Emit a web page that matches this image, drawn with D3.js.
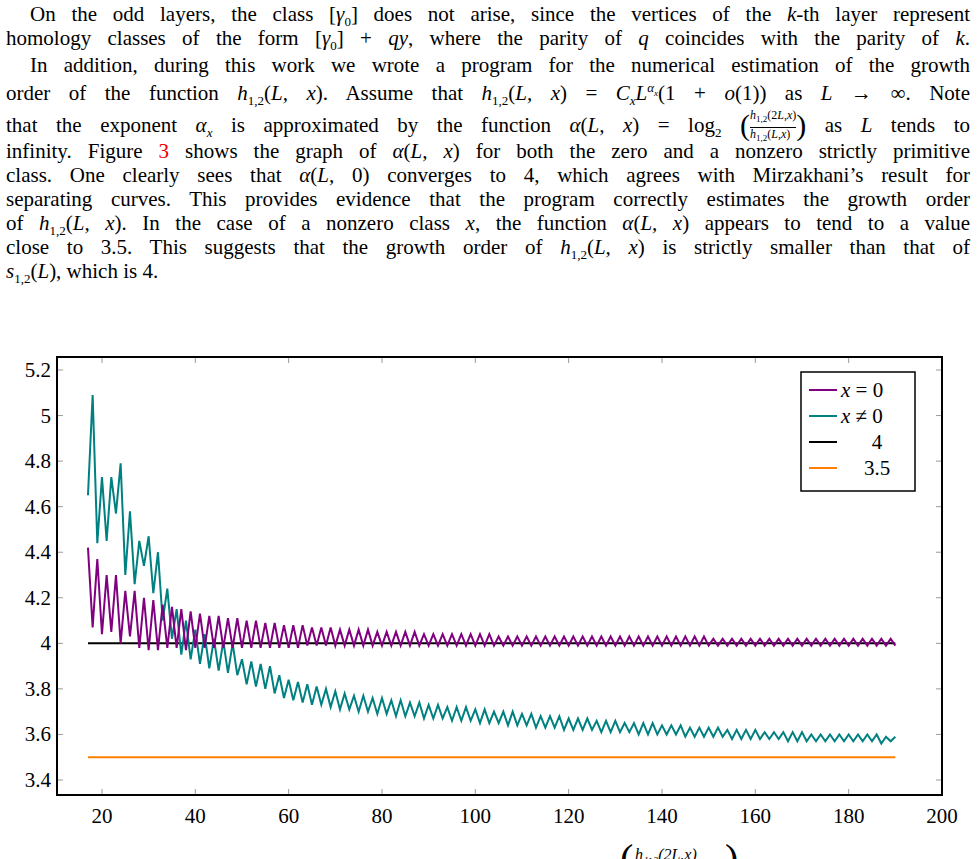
<!DOCTYPE html>
<html>
<head>
<meta charset="utf-8">
<script src="https://cdn.jsdelivr.net/npm/d3@7"></script>
<style>
body { margin: 0; background: #fff; font-family: "Liberation Serif", "DejaVu Serif", serif; }
#text { position: absolute; left: 6px; top: 2px; width: 964px; font-size: 21px; color: #000; }
.ln { position: absolute; left: 0; width: 964px; text-align: justify; text-align-last: justify; white-space: nowrap; }
.ind { padding-left: 24px; width: 940px; }
.last { text-align-last: left; }
i { font-style: italic; }
sub, sup { font-size: 13px; }
.fr { display: inline-block; vertical-align: middle; text-align: center; font-size: 12px; line-height: 13px; }
.fr span { display: block; }
.fr .num { border-bottom: 1px solid #000; }
.fr sub { font-size: 9px; }
.big { font-size: 30px; vertical-align: -3px; }
#chart { position: absolute; left: 0; top: 0; }
</style>
</head>
<body>
<div id="text">
<div class="ln ind" style="top:0">On the odd layers, the class [<i>γ</i><sub>0</sub>] does not arise, since the vertices of the <i>k</i>-th layer represent</div>
<div class="ln" style="top:24px">homology classes of the form [<i>γ</i><sub>0</sub>]&nbsp;+&nbsp;<i>qy</i>, where the parity of <i>q</i> coincides with the parity of <i>k</i>.</div>
<div class="ln ind" style="top:51px">In addition, during this work we wrote a program for the numerical estimation of the growth</div>
<div class="ln" style="top:78px">order of the function <i>h</i><sub>1,2</sub>(<i>L,&nbsp;x</i>). Assume that <i>h</i><sub>1,2</sub>(<i>L,&nbsp;x</i>)&nbsp;=&nbsp;<i>C<sub>x</sub>L<sup>α<sub style="font-size:9px">x</sub></sup></i>(1&nbsp;+&nbsp;<i>o</i>(1)) as <i>L</i>&nbsp;→&nbsp;∞. Note</div>
<div class="ln" style="top:106px">that the exponent <i>α<sub>x</sub></i> is approximated by the function <i>α</i>(<i>L,&nbsp;x</i>)&nbsp;=&nbsp;log<sub>2</sub>&nbsp;<span class="big">(</span><span class="fr"><span class="num"><i>h</i><sub>1,2</sub>(2<i>L,x</i>)</span><span><i>h</i><sub>1,2</sub>(<i>L,x</i>)</span></span><span class="big">)</span> as <i>L</i> tends to</div>
<div class="ln" style="top:137px">infinity. Figure <span style="color:#e00">3</span> shows the graph of <i>α</i>(<i>L,&nbsp;x</i>) for both the zero and a nonzero strictly primitive</div>
<div class="ln" style="top:161px">class. One clearly sees that <i>α</i>(<i>L,</i>&nbsp;0) converges to 4, which agrees with Mirzakhani’s result for</div>
<div class="ln" style="top:185px">separating curves. This provides evidence that the program correctly estimates the growth order</div>
<div class="ln" style="top:209px">of <i>h</i><sub>1,2</sub>(<i>L,&nbsp;x</i>). In the case of a nonzero class <i>x</i>, the function <i>α</i>(<i>L,&nbsp;x</i>) appears to tend to a value</div>
<div class="ln" style="top:233px">close to 3.5. This suggests that the growth order of <i>h</i><sub>1,2</sub>(<i>L,&nbsp;x</i>) is strictly smaller than that of</div>
<div class="ln last" style="top:257px"><i>s</i><sub>1,2</sub>(<i>L</i>), which is 4.</div>
</div>
<svg id="chart" width="978" height="859"></svg>
<script>
const xTicks = [20, 40, 60, 80, 100, 120, 140, 160, 180, 200];
const yTicks = [3.4, 3.6, 3.8, 4, 4.2, 4.4, 4.6, 4.8, 5, 5.2];
const legendLabels = ["x = 0", "x ≠ 0", "4", "3.5"];
const seriesColors = ["#800080", "#008080", "#000000", "#ff8000"];

const zeroClass = [
  4.42,4.07,4.37,4.04,4.30,4.05,4.30,4.00,4.23,4.03,4.23,3.98,4.20,3.97,
  4.19,3.97,4.17,3.98,4.16,3.98,4.15,3.97,4.14,3.98,
  4.13,3.98,4.12,3.98,4.12,3.98,4.11,3.98,4.11,3.98,
  4.10,3.98,4.10,3.98,4.09,3.98,4.09,3.98,4.08,3.98,
  4.08,3.98,4.08,3.99,4.07,3.99,4.07,3.99,4.07,3.99,
  4.06,3.99,4.06,3.99,4.06,3.99,4.06,3.99,4.05,3.99,
  4.05,3.99,4.05,3.99,4.05,3.99,4.05,3.99,4.04,3.99,
  4.04,3.99,4.04,3.99,4.04,3.99,4.04,3.99,4.04,3.99,
  4.04,3.99,4.04,3.99,4.03,3.99,4.03,3.99,4.03,3.99,
  4.03,3.99,4.03,3.99,4.03,3.99,4.03,3.99,4.03,3.99,
  4.03,3.99,4.03,3.99,4.03,3.99,4.03,3.99,4.03,3.99,
  4.03,3.99,4.03,3.99,4.03,3.99,4.03,3.99,4.03,3.99,
  4.03,3.99,4.03,3.99,4.03,3.99,4.03,3.99,4.03,3.99,
  4.02,3.99,4.02,3.99,4.02,3.99,4.02,3.99,4.02,3.99,
  4.02,3.99,4.02,3.99,4.02,3.99,4.02,3.99,4.02,3.99,
  4.02,3.99,4.02,3.99,4.02,3.99,4.02,3.99,4.02,3.99,
  4.02,3.99,4.02,3.99,4.02,3.99,4.02,3.99,4.02,3.99
];
const nonzeroClass = [
  4.65,5.09,4.44,4.73,4.45,4.73,4.57,4.79,4.30,4.58,4.26,4.45,4.34,4.47,
  4.22,4.40,4.10,4.24,4.02,4.15,3.95,4.10,3.93,4.06,
  3.91,4.04,3.89,4.02,3.88,4.01,3.87,4.00,3.86,3.93,
  3.82,3.92,3.81,3.91,3.80,3.90,3.78,3.86,3.76,3.84,
  3.75,3.83,3.74,3.82,3.73,3.81,3.73,3.80,3.72,3.79,
  3.71,3.78,3.71,3.77,3.70,3.77,3.70,3.76,3.69,3.76,
  3.69,3.75,3.68,3.75,3.68,3.74,3.68,3.74,3.67,3.73,
  3.67,3.73,3.67,3.72,3.66,3.72,3.66,3.72,3.66,3.71,
  3.65,3.71,3.65,3.70,3.65,3.70,3.64,3.70,3.64,3.69,
  3.64,3.69,3.63,3.68,3.63,3.68,3.63,3.68,3.62,3.67,
  3.62,3.67,3.62,3.67,3.62,3.66,3.61,3.66,3.61,3.66,
  3.61,3.65,3.61,3.65,3.60,3.65,3.60,3.65,3.60,3.64,
  3.60,3.64,3.60,3.64,3.59,3.63,3.59,3.63,3.59,3.63,
  3.59,3.63,3.59,3.62,3.58,3.62,3.58,3.62,3.58,3.62,
  3.58,3.61,3.58,3.61,3.58,3.61,3.57,3.61,3.57,3.61,
  3.57,3.60,3.57,3.60,3.57,3.60,3.57,3.60,3.57,3.60,
  3.57,3.60,3.57,3.60,3.57,3.60,3.56,3.59,3.57,3.59
];
const firstL = 17;
const refLines = [4, 3.5];
const refRange = [17, 190];

const svg = d3.select("#chart");
const pLeft = 57, pRight = 942, pTop = 357, pBottom = 795;
const x = d3.scaleLinear().domain([10, 200]).range([55.3, 942]);
const y = d3.scaleLinear().domain([3.4, 5.2]).range([780, 370]);
const font = "'Liberation Serif', 'DejaVu Serif', serif";

// ticks on all four sides, pointing inward
const g = svg.append("g");
xTicks.forEach(t => {
  g.append("line").attr("x1", x(t)).attr("x2", x(t)).attr("y1", pBottom).attr("y2", pBottom - 6).attr("stroke", "#999");
  g.append("line").attr("x1", x(t)).attr("x2", x(t)).attr("y1", pTop).attr("y2", pTop + 6).attr("stroke", "#999");
  g.append("text").attr("x", x(t)).attr("y", pBottom + 28).attr("text-anchor", "middle")
    .attr("font-family", font).attr("font-size", 21).text(t);
});
yTicks.forEach(t => {
  g.append("line").attr("x1", pLeft).attr("x2", pLeft + 6).attr("y1", y(t)).attr("y2", y(t)).attr("stroke", "#999");
  g.append("line").attr("x1", pRight).attr("x2", pRight - 6).attr("y1", y(t)).attr("y2", y(t)).attr("stroke", "#999");
  g.append("text").attr("x", pLeft - 6).attr("y", y(t) + 7).attr("text-anchor", "end")
    .attr("font-family", font).attr("font-size", 21).text(t);
});

const line = d3.line().x(d => x(d[0])).y(d => y(d[1]));
const toPts = arr => arr.map((v, i) => [firstL + i, v]);

svg.append("path").attr("d", line(refRange.map(l => [l, refLines[1]])))
  .attr("stroke", seriesColors[3]).attr("stroke-width", 2).attr("fill", "none");
svg.append("path").attr("d", line(refRange.map(l => [l, refLines[0]])))
  .attr("stroke", seriesColors[2]).attr("stroke-width", 2).attr("fill", "none");
svg.append("path").attr("d", line(toPts(nonzeroClass)))
  .attr("stroke", seriesColors[1]).attr("stroke-width", 2).attr("fill", "none");
svg.append("path").attr("d", line(toPts(zeroClass)))
  .attr("stroke", seriesColors[0]).attr("stroke-width", 2).attr("fill", "none");

svg.append("rect").attr("x", pLeft).attr("y", pTop).attr("width", pRight - pLeft).attr("height", pBottom - pTop)
  .attr("fill", "none").attr("stroke", "#000").attr("stroke-width", 2);

// legend
const lg = svg.append("g").attr("transform", "translate(801,372)");
lg.append("rect").attr("width", 114).attr("height", 119).attr("fill", "#fff").attr("stroke", "#000").attr("stroke-width", 1.5);
legendLabels.forEach((lab, i) => {
  const yy = 18 + i * 26;
  lg.append("line").attr("x1", 8).attr("x2", 36).attr("y1", yy).attr("y2", yy)
    .attr("stroke", seriesColors[i]).attr("stroke-width", 2);
  const t = lg.append("text").attr("y", yy + 7).attr("font-family", font).attr("font-size", 21);
  if (i < 2) {
    t.attr("x", 40);
    t.append("tspan").attr("font-style", "italic").text("x");
    t.append("tspan").text(lab.slice(1));
  } else {
    t.attr("x", 76).attr("text-anchor", "middle").text(lab);
  }
});

// cut-off caption fragment at the bottom
svg.append("text").attr("x", 620).attr("y", 872).attr("font-family", font).attr("font-size", 40).text("(");
svg.append("text").attr("x", 635).attr("y", 860).attr("font-family", font).attr("font-size", 16)
  .attr("font-style", "italic").text("h₁,₂(2L,x)");
svg.append("text").attr("x", 725).attr("y", 872).attr("font-family", font).attr("font-size", 40).text(")");
</script>
</body>
</html>
